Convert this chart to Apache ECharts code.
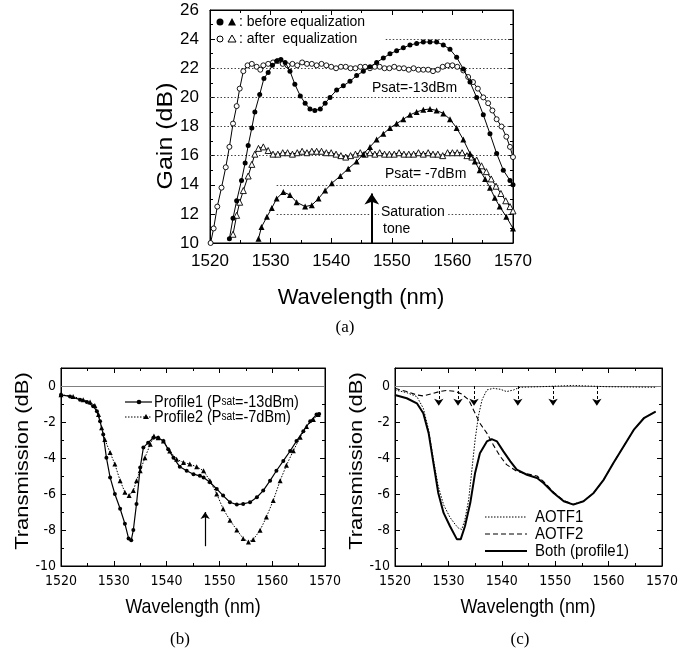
<!DOCTYPE html>
<html><head><meta charset="utf-8">
<script src="https://cdn.jsdelivr.net/npm/echarts/dist/echarts.min.js"></script>
<style>html,body{margin:0;padding:0;background:#fff}#c{width:684px;height:662px}</style>
</head><body><div id="c"></div>
<script>
// ---------- (a) Gain ----------
const aAfter13Wl = [1520.1,1520.6,1521.2,1521.9,1522.6,1523.2,1523.8,1524.4,1524.9,1525.5,
  1526.2,1526.9,1527.7,1528.3,1528.8,1529.6,1530.4,1531.2,1532.0,1532.8,
  1533.6,1534.4,1535.2,1536.0,1536.8,1537.6,1538.4,1539.2,1540.0,1540.8,
  1541.6,1542.4,1543.2,1544.0,1544.8,1545.6,1546.4,1547.2,1548.0,1548.8,
  1549.6,1550.4,1551.2,1552.0,1552.8,1553.6,1554.4,1555.2,1556.0,1556.8,
  1557.6,1558.4,1559.2,1560.0,1560.8,1561.8,1562.6,1563.4,1564.2,1565.1,
  1565.9,1566.6,1567.3,1568.1,1568.9,1569.5,1570.0];
const aAfter13Gain = [10.0,11.0,12.5,13.8,15.2,16.6,18.2,19.4,20.6,21.8,
  22.2,22.3,22.1,21.9,22.2,22.3,22.4,22.5,22.3,22.2,
  22.3,22.2,22.4,22.3,22.3,22.2,22.3,22.2,22.1,22.0,
  22.1,22.1,22.0,22.0,22.1,22.1,22.0,22.1,22.1,22.0,
  22.0,22.1,22.0,22.0,21.9,22.0,21.9,21.9,21.9,21.8,
  21.9,22.1,22.2,22.2,22.1,21.85,21.4,21.05,20.6,20.0,
  19.6,19.1,18.5,18.0,17.3,16.6,15.9];
const aBefore13Wl = [1523.2,1523.8,1524.4,1525.2,1525.8,1526.3,1526.9,1527.4,1528.2,1528.9,
  1529.6,1530.3,1531.0,1531.7,1532.4,1533.2,1534.0,1534.9,1535.7,1536.5,
  1537.3,1538.2,1539.0,1539.8,1540.9,1542.0,1543.1,1544.2,1545.3,1546.4,
  1547.5,1548.6,1549.7,1550.8,1551.9,1553.0,1554.1,1555.2,1556.3,1557.4,
  1558.5,1559.6,1560.7,1561.8,1562.9,1564.0,1565.1,1566.2,1567.3,1568.4,
  1569.5,1570.0];
const aBefore13Gain = [10.3,11.7,12.9,14.3,15.5,16.7,17.9,19.0,20.2,21.3,
  21.7,22.2,22.5,22.6,22.4,21.8,20.9,20.1,19.6,19.2,
  19.1,19.2,19.6,20.0,20.5,20.8,21.1,21.5,21.8,22.1,
  22.4,22.7,23.0,23.2,23.4,23.6,23.7,23.8,23.8,23.8,
  23.6,23.3,22.75,21.95,21.05,20.0,18.8,17.5,16.15,15.0,
  14.3,14.0];
const aAfter7Wl = [1523.8,1524.4,1524.9,1525.5,1526.3,1526.9,1527.4,1528.0,1528.8,1529.6,
  1530.4,1531.2,1532.0,1532.8,1533.6,1534.4,1535.2,1536.0,1536.8,1537.6,
  1538.4,1539.2,1540.0,1540.8,1541.6,1542.4,1543.2,1544.0,1544.8,1545.6,
  1546.4,1547.2,1548.0,1548.8,1549.6,1550.4,1551.2,1552.0,1552.8,1553.6,
  1554.4,1555.2,1556.0,1556.8,1557.6,1558.4,1559.2,1560.0,1560.8,1561.6,
  1562.4,1563.2,1564.0,1564.8,1565.6,1566.4,1567.2,1568.0,1568.8,1569.5,
  1570.0];
const aAfter7Gain = [10.6,11.9,12.8,13.6,14.6,15.4,16.1,16.5,16.6,16.35,
  16.1,16.1,16.2,16.2,16.1,16.2,16.3,16.2,16.3,16.3,
  16.3,16.2,16.2,16.1,16.0,15.9,16.0,16.1,16.2,16.1,
  16.2,16.1,16.2,16.1,16.1,16.1,16.2,16.1,16.1,16.1,
  16.2,16.1,16.2,16.1,16.1,16.0,16.2,16.2,16.2,16.2,
  16.0,15.9,15.7,15.3,14.9,14.4,13.9,13.4,12.9,12.5,
  12.2];
const aBefore7Wl = [1528.0,1528.5,1529.4,1530.2,1531.0,1532.1,1533.2,1534.3,1535.7,1536.8,
  1537.9,1539.0,1540.1,1541.5,1542.8,1544.2,1545.3,1546.4,1547.5,1548.6,
  1549.7,1550.8,1551.9,1553.0,1554.1,1555.2,1556.3,1557.4,1558.5,1559.6,
  1560.7,1561.8,1562.9,1563.7,1564.5,1565.4,1566.2,1567.0,1567.8,1568.9,
  1570.0];
const aBefore7Gain = [10.3,11.1,11.8,12.4,13.05,13.5,13.3,12.8,12.5,12.6,
  13.05,13.6,14.1,14.6,15.1,15.6,16.1,16.6,17.1,17.5,
  17.9,18.2,18.5,18.8,19.0,19.15,19.2,19.1,18.9,18.5,
  17.9,17.1,16.15,15.6,15.0,14.4,13.8,13.1,12.5,11.8,
  11.0];
const gainGridLevels = [12,14,16,18,20,22,24];
const gainGridFrom   = [1531,1531,1520,1520,1520,1520,1549];
const satToneWl = 1546.7, satToneFrom = 10.0, satToneTo = 13.4;

// ---------- (b) Profiles ----------
const bProf1Wl = [1520.0,1521.7,1523.6,1524.9,1526.1,1526.8,1527.4,1528.0,1528.6,1529.3,
  1530.2,1531.2,1532.1,1532.8,1533.3,1533.7,1534.3,1535.0,1535.6,1536.5,
  1537.5,1538.4,1539.4,1540.3,1541.3,1542.5,1543.8,1545.1,1546.3,1547.0,
  1548.2,1549.5,1550.7,1552.0,1553.3,1554.5,1555.8,1557.1,1558.3,1559.6,
  1560.8,1562.1,1563.4,1564.6,1565.9,1567.2,1568.4,1568.9];
const bProf1Db = [-0.49,-0.58,-0.76,-0.89,-1.13,-1.4,-1.96,-2.69,-3.98,-5.08,
  -6.0,-6.82,-7.65,-8.47,-8.57,-8.0,-6.55,-4.53,-3.42,-3.15,
  -2.87,-2.87,-3.06,-3.52,-3.98,-4.49,-4.71,-4.9,-4.99,-5.08,
  -5.35,-5.72,-6.09,-6.46,-6.59,-6.55,-6.46,-6.18,-5.81,-5.26,
  -4.71,-4.16,-3.61,-3.06,-2.51,-1.96,-1.59,-1.55];
const bProf2Wl = [1520.0,1522.3,1524.2,1525.5,1526.4,1527.1,1527.7,1528.3,1529.3,1530.2,
  1531.2,1532.1,1532.9,1533.7,1534.3,1535.0,1535.9,1536.9,1537.6,1538.4,
  1539.4,1540.6,1541.9,1543.2,1544.4,1545.7,1547.0,1548.2,1549.5,1550.7,
  1552.0,1553.3,1554.5,1555.5,1556.4,1557.7,1558.9,1560.2,1561.5,1562.7,
  1564.0,1565.3,1566.5,1567.8,1568.7];
const bProf2Db = [-0.49,-0.58,-0.76,-0.89,-1.08,-1.59,-2.32,-2.97,-3.7,-4.34,
  -5.26,-5.9,-6.09,-5.81,-5.26,-4.71,-3.98,-3.24,-2.78,-2.87,
  -3.06,-3.61,-4.07,-4.25,-4.34,-4.49,-4.71,-5.26,-6.0,-6.82,
  -7.46,-8.0,-8.47,-8.66,-8.53,-8.02,-7.28,-6.36,-5.26,-4.4,
  -3.6,-2.85,-2.25,-1.86,-1.59];
const bToneWl = 1547.3, bToneFrom = -8.9, bToneTo = -7.0;

// ---------- (c) AOTFs ----------
const cBothWl = [1520.0,1522.2,1524.1,1525.3,1526.3,1527.2,1528.1,1529.1,1530.3,1531.6,
  1532.3,1533.1,1534.1,1535.0,1535.9,1537.2,1538.1,1539.1,1540.3,1541.6,
  1542.8,1544.7,1546.6,1547.8,1549.7,1551.6,1553.4,1555.3,1557.2,1559.1,
  1560.9,1562.8,1564.7,1566.6,1568.8];
const cBothDb = [-0.5,-0.68,-0.96,-1.51,-2.62,-4.28,-5.94,-7.05,-7.79,-8.52,
  -8.52,-7.79,-6.49,-4.83,-3.73,-3.08,-2.95,-3.08,-3.63,-4.19,
  -4.65,-4.93,-5.11,-5.39,-5.94,-6.4,-6.59,-6.4,-5.94,-5.2,
  -4.28,-3.36,-2.44,-1.79,-1.42];
const cAotf1Wl = [1520.0,1522.2,1524.1,1525.3,1526.3,1527.2,1528.1,1529.1,1530.3,1531.3,
  1531.9,1532.5,1533.1,1533.8,1534.4,1535.0,1535.6,1536.3,1537.2,1538.4,
  1539.7,1540.9,1542.2,1543.4,1547.2,1553.4,1559.7,1569.0];
const cAotf1Db = [-0.22,-0.37,-0.59,-1.24,-2.44,-4.1,-5.57,-6.6,-7.3,-7.7,
  -7.9,-7.97,-7.42,-6.31,-4.65,-2.99,-1.7,-0.77,-0.22,-0.13,
  -0.18,-0.31,-0.22,-0.07,-0.04,0.03,-0.04,-0.07];
const cAotf2Wl = [1520.0,1522.2,1524.1,1525.3,1527.2,1528.4,1529.7,1531.3,1532.5,1533.8,
  1534.7,1535.9,1537.2,1538.4,1539.7,1540.9,1542.8,1544.7,1546.6,1547.8,
  1549.7,1551.6,1553.4,1555.3,1557.2,1559.1,1560.9,1562.8,1564.7,1566.6,
  1568.8];
const cAotf2Db = [-0.13,-0.31,-0.5,-0.55,-0.41,-0.3,-0.25,-0.3,-0.45,-0.77,
  -1.33,-2.07,-2.62,-3.27,-3.91,-4.37,-4.74,-4.88,-5.0,-5.3,
  -5.9,-6.37,-6.57,-6.4,-5.94,-5.2,-4.28,-3.36,-2.44,-1.79,
  -1.42];
const cArrowWl = [1528.2,1531.8,1534.8,1543.0,1549.6,1557.8];
const cArrowTo = -1.1;

// ---------- build ----------
const FONT = "'Liberation Sans', Arial, sans-serif";
const NARROW = "'Liberation Sans Narrow','Arial Narrow','DejaVu Sans Condensed',sans-serif";
const SERIF = "'Liberation Serif','Times New Roman',serif";
const zip = (a, b) => a.map((v, i) => [v, b[i]]);
const plain = v => String(v);

function axisCommon(gi, min, max, interval, pos, label) {
  return {
    type: 'value', gridIndex: gi, min, max, interval, position: pos,
    axisLine: { show: true, onZero: false, lineStyle: { color: '#000', width: 1 } },
    axisTick: { show: true, inside: true, length: 5, lineStyle: { color: '#000' } },
    minorTick: { show: true, splitNumber: 2, length: 3, lineStyle: { color: '#000' } },
    splitLine: { show: false }, minorSplitLine: { show: false },
    axisLabel: label ? Object.assign({ color: '#000', showMaxLabel: true, formatter: plain }, label) : { show: false }
  };
}
const topLabelX = { fontSize: 17, fontFamily: FONT, margin: 10 };
const topLabelY = { fontSize: 17, fontFamily: FONT, margin: 11 };
const botLabelX = { fontSize: 14, fontFamily: NARROW, margin: 8 };
const botLabelY = { fontSize: 14, fontFamily: NARROW, margin: 5, showMaxLabel: false };

const xAxes = [
  axisCommon(0, 1520, 1570, 10, 'bottom', topLabelX),
  axisCommon(0, 1520, 1570, 10, 'top', null),
  axisCommon(1, 1520, 1570, 10, 'bottom', botLabelX),
  axisCommon(1, 1520, 1570, 10, 'top', null),
  axisCommon(2, 1520, 1570, 10, 'bottom', botLabelX),
  axisCommon(2, 1520, 1570, 10, 'top', null)
];
const yAxes = [
  axisCommon(0, 10, 26, 2, 'left', topLabelY),
  axisCommon(0, 10, 26, 2, 'right', null),
  axisCommon(1, -10, 1, 2, 'left', botLabelY),
  axisCommon(1, -10, 1, 2, 'right', null),
  axisCommon(2, -10, 1, 2, 'left', botLabelY),
  axisCommon(2, -10, 1, 2, 'right', null)
];

const zeroLine = () => ({
  silent: true, symbol: 'none', z: 1, label: { show: false },
  lineStyle: { color: '#808080', width: 1.2, type: 'solid' },
  data: [[{ coord: [1520, 0] }, { coord: [1570, 0] }]]
});

function mark(seriesBase) { return Object.assign({ animation: false, silent: true, showAllSymbol: true }, seriesBase); }

const series = [
  mark({ type: 'line', xAxisIndex: 0, yAxisIndex: 0, z: 3, data: zip(aAfter13Wl, aAfter13Gain),
    symbol: 'circle', symbolSize: 5, lineStyle: { color: '#000', width: 1 },
    itemStyle: { color: '#fff', borderColor: '#000', borderWidth: 0.9 },
    markLine: { silent: true, symbol: 'none', z: 1, label: { show: false },
      lineStyle: { color: '#444', width: 1, type: [1.5, 2] },
      data: gainGridLevels.map((g, i) => [{ coord: [gainGridFrom[i], g] }, { coord: [1570, g] }]) } }),
  mark({ type: 'line', xAxisIndex: 0, yAxisIndex: 0, z: 4, data: zip(aBefore13Wl, aBefore13Gain),
    symbol: 'circle', symbolSize: 5, lineStyle: { color: '#000', width: 1 }, itemStyle: { color: '#000' } }),
  mark({ type: 'line', xAxisIndex: 0, yAxisIndex: 0, z: 3, data: zip(aAfter7Wl, aAfter7Gain),
    symbol: 'triangle', symbolSize: 6, lineStyle: { color: '#000', width: 1 },
    itemStyle: { color: '#fff', borderColor: '#000', borderWidth: 0.9 } }),
  mark({ type: 'line', xAxisIndex: 0, yAxisIndex: 0, z: 4, data: zip(aBefore7Wl, aBefore7Gain),
    symbol: 'triangle', symbolSize: 6, lineStyle: { color: '#000', width: 1 }, itemStyle: { color: '#000' },
    markLine: { silent: true, symbol: ['none', 'arrow'], symbolSize: 11, z: 5, label: { show: false },
      lineStyle: { color: '#000', width: 2, type: 'solid' },
      data: [[{ coord: [satToneWl, satToneFrom] }, { coord: [satToneWl, satToneTo] }]] } }),
  // (b)
  mark({ type: 'line', xAxisIndex: 2, yAxisIndex: 2, z: 4, data: zip(bProf1Wl, bProf1Db),
    symbol: 'circle', symbolSize: 4, lineStyle: { color: '#000', width: 1.2 }, itemStyle: { color: '#000' },
    markLine: zeroLine() }),
  mark({ type: 'line', xAxisIndex: 2, yAxisIndex: 2, z: 3, data: zip(bProf2Wl, bProf2Db),
    symbol: 'triangle', symbolSize: 5, lineStyle: { color: '#000', width: 1, type: [1.5, 1.5] }, itemStyle: { color: '#000' },
    markLine: { silent: true, symbol: ['none', 'arrow'], symbolSize: 7, label: { show: false },
      lineStyle: { color: '#000', width: 1.2, type: 'solid' },
      data: [[{ coord: [bToneWl, bToneFrom] }, { coord: [bToneWl, bToneTo] }]] } }),
  // (c)
  mark({ type: 'line', xAxisIndex: 4, yAxisIndex: 4, z: 3, data: zip(cAotf1Wl, cAotf1Db), symbol: 'none',
    lineStyle: { color: '#000', width: 1, type: [1.5, 1.5] },
    markLine: zeroLine() }),
  mark({ type: 'line', xAxisIndex: 4, yAxisIndex: 4, z: 3, data: zip(cAotf2Wl, cAotf2Db), symbol: 'none',
    lineStyle: { color: '#000', width: 1.1, type: [5, 3] },
    markLine: { silent: true, symbol: ['none', 'arrow'], symbolSize: 7, label: { show: false },
      lineStyle: { color: '#000', width: 1, type: [3, 2] },
      data: cArrowWl.map(w => [{ coord: [w, 0] }, { coord: [w, cArrowTo] }]) } }),
  mark({ type: 'line', xAxisIndex: 4, yAxisIndex: 4, z: 4, data: zip(cBothWl, cBothDb), symbol: 'none',
    lineStyle: { color: '#000', width: 2 } })
];

function txt(text, x, y, style, extra) {
  return Object.assign({ type: 'text', x, y, z: 100, silent: true,
    style: Object.assign({ text, fill: '#000', fontFamily: FONT, fontSize: 14, align: 'left', verticalAlign: 'middle' }, style || {}) }, extra || {});
}

const graphic = [
  // (a) legend
  { type: 'circle', z: 100, shape: { cx: 220, cy: 22, r: 3.5 }, style: { fill: '#000' } },
  { type: 'polygon', z: 100, shape: { points: [[232, 18], [236, 25.5], [228, 25.5]] }, style: { fill: '#000' } },
  { type: 'circle', z: 100, shape: { cx: 220, cy: 39, r: 3 }, style: { fill: '#fff', stroke: '#000', lineWidth: 1 } },
  { type: 'polygon', z: 100, shape: { points: [[232, 35], [236, 42], [228, 42]] }, style: { fill: '#fff', stroke: '#000', lineWidth: 1 } },
  txt(': before equalization', 239, 22),
  txt(': after  equalization', 239, 39),
  txt('Psat=-13dBm', 372, 88),
  txt('Psat= -7dBm', 385, 174),
  txt('Saturation', 379, 212, { backgroundColor: '#fff', padding: [0, 3, 0, 2] }),
  txt('tone', 383, 229),
  txt('Gain (dB)', 166, 136, { fontSize: 25, align: 'center' }, { rotation: Math.PI / 2, scaleY: 0.85 }),
  txt('Wavelength (nm)', 361, 298, { fontSize: 22, align: 'center' }),
  txt('(a)', 345, 328, { fontSize: 17, fontFamily: SERIF, align: 'center' }),
  // (b)
  { type: 'line', z: 100, shape: { x1: 125, y1: 402, x2: 152, y2: 402 }, style: { stroke: '#000', lineWidth: 1.2 } },
  { type: 'circle', z: 100, shape: { cx: 139, cy: 402, r: 2.3 }, style: { fill: '#000' } },
  { type: 'line', z: 100, shape: { x1: 125, y1: 417, x2: 152, y2: 417 }, style: { stroke: '#000', lineWidth: 1, lineDash: [1.5, 1.5] } },
  { type: 'polygon', z: 100, shape: { points: [[146, 414], [149, 419], [143, 419]] }, style: { fill: '#000' } },
  txt('Profile1 (P{s|sat}=-13dBm)', 154, 402, { fontSize: 17, rich: { s: { fontSize: 12, fontFamily: FONT } } }, { scaleX: 0.85 }),
  txt('Profile2 (P{s|sat}=-7dBm)', 154, 417, { fontSize: 17, rich: { s: { fontSize: 12, fontFamily: FONT } } }, { scaleX: 0.85 }),
  txt('Transmission (dB)', 23, 461, { fontSize: 22, align: 'center' }, { rotation: Math.PI / 2, scaleY: 0.85 }),
  txt('Wavelength (nm)', 193, 607, { fontSize: 21, align: 'center' }, { scaleX: 0.85 }),
  txt('(b)', 180, 640, { fontSize: 17, fontFamily: SERIF, align: 'center' }),
  // (c)
  { type: 'line', z: 100, shape: { x1: 485, y1: 517, x2: 527, y2: 517 }, style: { stroke: '#000', lineWidth: 1, lineDash: [1.5, 1.5] } },
  { type: 'line', z: 100, shape: { x1: 485, y1: 534, x2: 527, y2: 534 }, style: { stroke: '#000', lineWidth: 1.1, lineDash: [5, 3] } },
  { type: 'line', z: 100, shape: { x1: 485, y1: 551, x2: 527, y2: 551 }, style: { stroke: '#000', lineWidth: 2 } },
  txt('AOTF1', 535, 517, { fontSize: 17 }, { scaleX: 0.88 }),
  txt('AOTF2', 535, 534, { fontSize: 17 }, { scaleX: 0.88 }),
  txt('Both (profile1)', 535, 551, { fontSize: 17 }, { scaleX: 0.88 }),
  txt('Transmission (dB)', 357, 461, { fontSize: 22, align: 'center' }, { rotation: Math.PI / 2, scaleY: 0.85 }),
  txt('Wavelength (nm)', 528, 607, { fontSize: 21, align: 'center' }, { scaleX: 0.85 }),
  txt('(c)', 520, 640, { fontSize: 17, fontFamily: SERIF, align: 'center' })
];

const gridStyle = { show: true, borderColor: '#000', borderWidth: 1, backgroundColor: 'transparent' };
const option = {
  animation: false,
  backgroundColor: '#fff',
  textStyle: { fontFamily: FONT },
  grid: [
    Object.assign({ left: 210, top: 10, width: 303, height: 233 }, gridStyle),
    Object.assign({ left: 61, top: 368, width: 264, height: 198 }, gridStyle),
    Object.assign({ left: 395, top: 368, width: 267, height: 198 }, gridStyle)
  ],
  xAxis: xAxes,
  yAxis: yAxes,
  series,
  graphic
};
const chart = echarts.init(document.getElementById('c'), null, { renderer: 'canvas', width: 684, height: 662 });
chart.setOption(option);
</script>
</body></html>
